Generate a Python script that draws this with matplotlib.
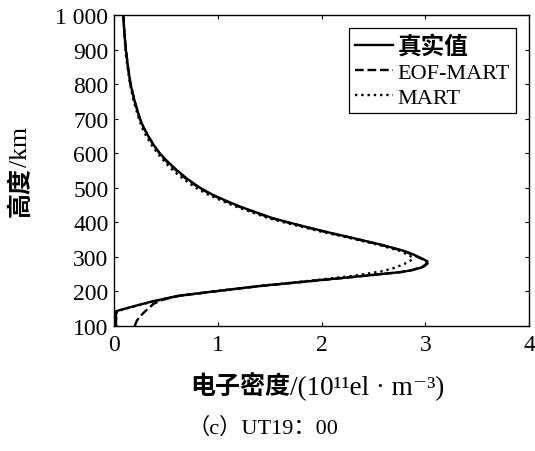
import numpy as np
import matplotlib
matplotlib.use("Agg")
import matplotlib.pyplot as plt
from matplotlib.ticker import FuncFormatter

plt.rcParams['font.family'] = ['Liberation Serif', 'Noto Sans CJK SC', 'DejaVu Serif']

# electron density profiles (1e11 el/m^3) against altitude (km)
true_alt = [100, 120, 143, 158, 172, 187, 199, 216, 230, 242, 256, 262, 271, 280, 287,
            295, 305, 317, 335, 357, 370, 384, 400, 413, 430, 445, 460, 480, 500, 525,
            550, 575, 600, 625, 650, 675, 700, 750, 800, 850, 900, 950, 1000]
true_ne = [0.02, 0.02, 0.02, 0.20, 0.38, 0.61, 0.93, 1.41, 1.89, 2.30, 2.76, 2.88, 2.98, 3.02, 3.02,
           2.97, 2.90, 2.80, 2.58, 2.27, 2.08, 1.89, 1.68, 1.52, 1.36, 1.22, 1.10, 0.95, 0.83, 0.71,
           0.61, 0.52, 0.44, 0.38, 0.33, 0.285, 0.25, 0.20, 0.16, 0.135, 0.115, 0.10, 0.09]

eof_alt = [100, 115, 128, 145, 164, 176, 187, 199, 216, 230, 242, 256, 262, 271, 280, 287,
           295, 305, 317, 335, 357, 370, 384, 400, 413, 430, 445, 460, 480, 500, 525,
           550, 575, 600, 625, 650, 675, 700, 750, 800, 850, 900, 950, 1000]
eof_ne = [0.20, 0.22, 0.25, 0.31, 0.38, 0.47, 0.62, 0.94, 1.42, 1.90, 2.31, 2.76, 2.87, 2.97, 3.01, 3.01,
          2.96, 2.89, 2.79, 2.57, 2.26, 2.07, 1.88, 1.67, 1.51, 1.35, 1.21, 1.09, 0.94, 0.82, 0.70,
          0.60, 0.51, 0.44, 0.38, 0.33, 0.285, 0.25, 0.20, 0.16, 0.135, 0.115, 0.10, 0.09]

mart_alt = [100, 120, 143, 158, 172, 187, 200, 217, 232, 245, 252, 259, 268, 280, 290, 298,
            305, 317, 335, 357, 370, 384, 400, 413, 430, 445, 460, 480, 500, 525,
            550, 575, 600, 625, 650, 675, 700, 750, 800, 850, 900, 950, 1000]
mart_ne = [0.02, 0.02, 0.03, 0.21, 0.39, 0.62, 0.95, 1.43, 1.92, 2.30, 2.45, 2.59, 2.70, 2.80, 2.86, 2.88,
           2.84, 2.76, 2.55, 2.24, 2.04, 1.85, 1.64, 1.48, 1.32, 1.18, 1.06, 0.91, 0.79, 0.67,
           0.57, 0.49, 0.42, 0.36, 0.31, 0.27, 0.24, 0.19, 0.155, 0.13, 0.11, 0.10, 0.09]

x_ticks = [0, 1, 2, 3, 4]
y_ticks = [100, 200, 300, 400, 500, 600, 700, 800, 900, 1000]

cjk_bold = dict(family='Noto Sans CJK SC', fontweight='bold')

fig = plt.figure(figsize=(5.35, 4.52), dpi=100)
ax = fig.add_axes([0.213, 0.2765, 0.776, 0.688])

ax.plot(true_ne, true_alt, 'k-', lw=1.7, label='真实值')
ax.plot(eof_ne, eof_alt, 'k--', lw=1.7, label='EOF-MART')
ax.plot(mart_ne, mart_alt, 'k:', lw=1.7, label='MART')

ax.set_xlim(0, 4)
ax.set_ylim(100, 1000)
ax.set_xticks(x_ticks)
ax.set_yticks(y_ticks)
ax.yaxis.set_major_formatter(FuncFormatter(
    lambda v, p: '1 000' if v >= 1000 else '%d' % v))
ax.tick_params(direction='in', length=3, width=0.8, top=True, right=True,
               labelsize=17)
ax.tick_params(axis='x', pad=6)
ax.tick_params(axis='y', pad=4)
for s in ax.spines.values():
    s.set_linewidth(1.0)

# axis titles: bold Chinese part followed by the serif unit part
xl = fig.text(0.355, 0.128, '电子密度', fontsize=18, ha='left', va='baseline', **cjk_bold)
ax.annotate('/(10¹¹el · m⁻³)', xy=(1, 0.16), xycoords=xl, fontsize=19.5,
            ha='left', va='baseline', annotation_clip=False)

yl = fig.text(0.039, 0.575, '高度', fontsize=18, rotation=90, ha='center',
              va='center', **cjk_bold)
ax.annotate('/km', xy=(0.52, 1), xycoords=yl, fontsize=18.5, rotation=90,
            ha='center', va='bottom', annotation_clip=False)

leg = ax.legend(loc='upper right', fontsize=16, frameon=True, fancybox=False,
                edgecolor='k', framealpha=1, handlelength=1.75, handletextpad=0.2,
                labelspacing=0.2, borderpad=0.25, borderaxespad=0.6)
leg.get_frame().set_linewidth(0.9)
leg.get_texts()[0].set_fontproperties(dict(family='Noto Sans CJK SC', weight='bold', size=17))

fig.text(0.492, 0.053, '（c）UT19：00', ha='center', va='center', fontsize=16)

fig.savefig('out.png', dpi=100)
